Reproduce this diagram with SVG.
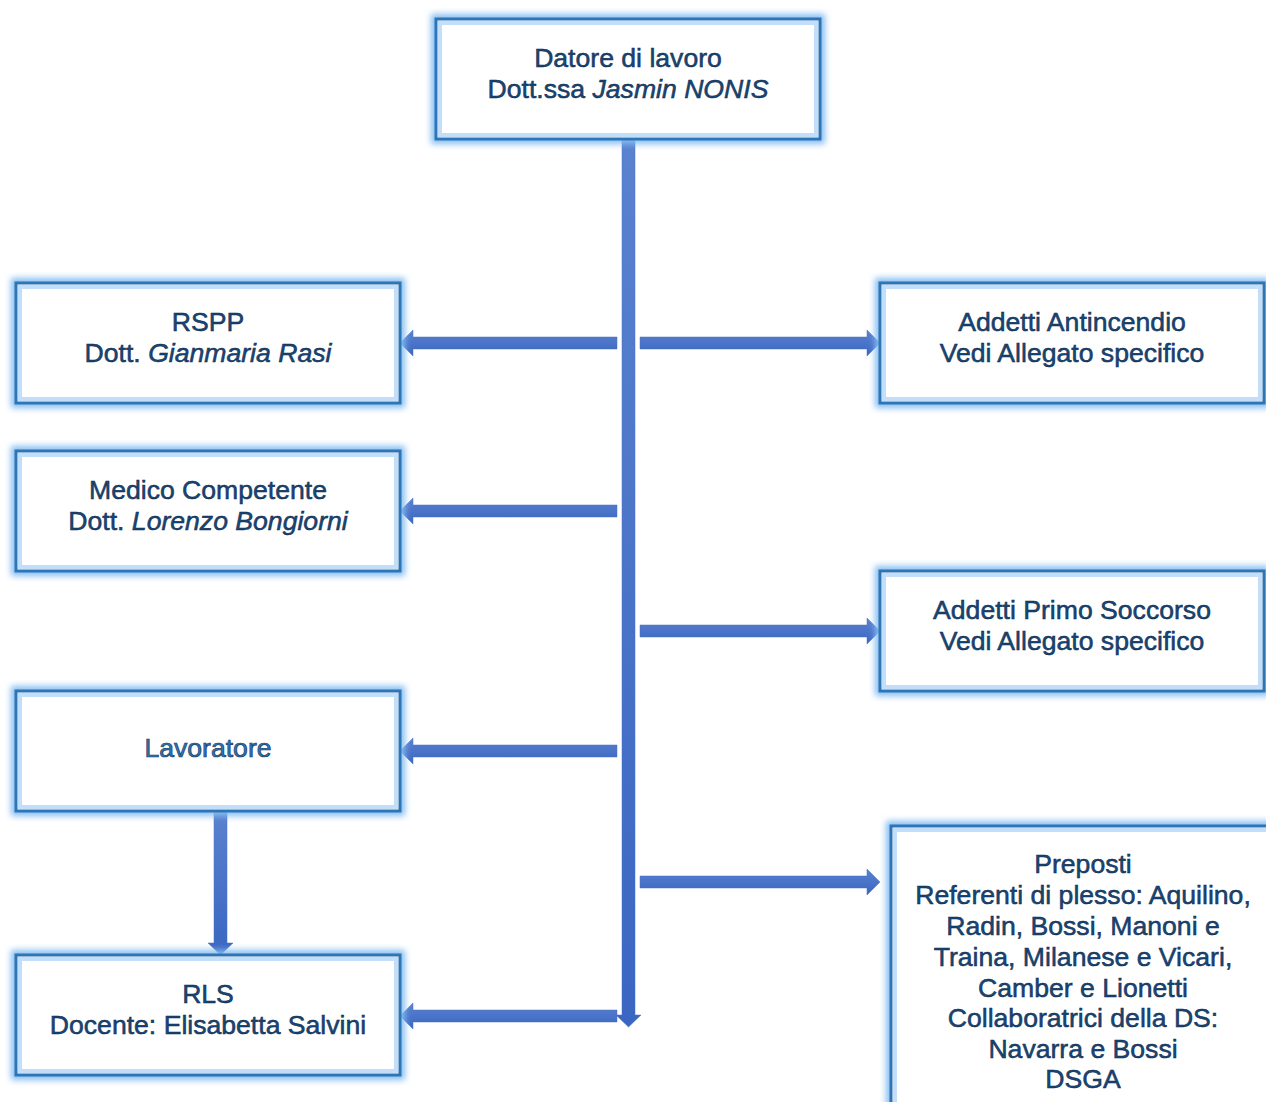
<svg xmlns="http://www.w3.org/2000/svg" width="1266" height="1102" viewBox="0 0 1266 1102">
<defs>
<filter id="glow" x="-10%" y="-20%" width="120%" height="140%">
<feGaussianBlur stdDeviation="3"/>
</filter>
<linearGradient id="ag" x1="0" y1="0" x2="0" y2="1">
<stop offset="0" stop-color="#5b82cf"/>
<stop offset="1" stop-color="#3a66c2"/>
</linearGradient>
</defs>
<style>
.halo{fill:none;stroke:#86bdf2;stroke-width:10;filter:url(#glow)}
.box{fill:#ffffff;stroke:#2e75b6;stroke-width:3}
.inner{fill:none;stroke:#c2def8;stroke-width:4}
text{font-family:"Liberation Sans",Arial,sans-serif;font-size:26.6px;fill:#184676;stroke:#0a2749;stroke-width:0.5;text-anchor:middle}
.it{font-style:italic}
.lav{fill:#2e75b6;stroke:#163a63;stroke-width:0.7}
.arr{fill:url(#ag);stroke:#4472c4;stroke-width:0.5}
</style>

<g id="connectors">
<polygon class="arr" points="622,139 635,139 635,1015 641,1015 628.5,1027 616,1015 622,1015"/>
<polygon class="arr" points="617,337 413,337 413,330 400,343 413,356 413,349 617,349"/>
<polygon class="arr" points="640,337 867,337 867,330 880,343 867,356 867,349 640,349"/>
<polygon class="arr" points="617,505 413,505 413,498 400,511 413,524 413,517 617,517"/>
<polygon class="arr" points="640,625 867,625 867,618 880,631 867,644 867,637 640,637"/>
<polygon class="arr" points="617,745 413,745 413,738 400,751 413,764 413,757 617,757"/>
<polygon class="arr" points="640,876 867,876 867,869 880,882 867,895 867,888 640,888"/>
<polygon class="arr" points="617,1010 413,1010 413,1003 400,1016 413,1029 413,1022 617,1022"/>
<polygon class="arr" points="214,811 227,811 227,943 233,943 220.5,955 208,943 214,943"/>
</g>

<g id="datore">
<rect class="halo" x="436" y="19" width="384" height="120"/>
<rect class="box" x="436" y="19" width="384" height="120"/>
<rect class="inner" x="440" y="23" width="376" height="112"/>
<text x="628" y="67">Datore di lavoro</text>
<text x="628" y="98">Dott.ssa <tspan class="it">Jasmin NONIS</tspan></text>
</g>

<g id="rspp">
<rect class="halo" x="16" y="283" width="384" height="120"/>
<rect class="box" x="16" y="283" width="384" height="120"/>
<rect class="inner" x="20" y="287" width="376" height="112"/>
<text x="208" y="331">RSPP</text>
<text x="208" y="362">Dott. <tspan class="it">Gianmaria Rasi</tspan></text>
</g>

<g id="medico">
<rect class="halo" x="16" y="451" width="384" height="120"/>
<rect class="box" x="16" y="451" width="384" height="120"/>
<rect class="inner" x="20" y="455" width="376" height="112"/>
<text x="208" y="499">Medico Competente</text>
<text x="208" y="530">Dott. <tspan class="it">Lorenzo Bongiorni</tspan></text>
</g>

<g id="lavoratore">
<rect class="halo" x="16" y="691" width="384" height="120"/>
<rect class="box" x="16" y="691" width="384" height="120"/>
<rect class="inner" x="20" y="695" width="376" height="112"/>
<text class="lav" x="208" y="757">Lavoratore</text>
</g>

<g id="rls">
<rect class="halo" x="16" y="955" width="384" height="120"/>
<rect class="box" x="16" y="955" width="384" height="120"/>
<rect class="inner" x="20" y="959" width="376" height="112"/>
<text x="208" y="1003">RLS</text>
<text x="208" y="1034">Docente: Elisabetta Salvini</text>
</g>

<g id="antincendio">
<rect class="halo" x="880" y="283" width="384" height="120"/>
<rect class="box" x="880" y="283" width="384" height="120"/>
<rect class="inner" x="884" y="287" width="376" height="112"/>
<text x="1072" y="331">Addetti Antincendio</text>
<text x="1072" y="362">Vedi Allegato specifico</text>
</g>

<g id="primosoccorso">
<rect class="halo" x="880" y="571" width="384" height="120"/>
<rect class="box" x="880" y="571" width="384" height="120"/>
<rect class="inner" x="884" y="575" width="376" height="112"/>
<text x="1072" y="619">Addetti Primo Soccorso</text>
<text x="1072" y="650">Vedi Allegato specifico</text>
</g>

<g id="preposti">
<rect class="halo" x="891" y="826" width="400" height="300"/>
<rect class="box" x="891" y="826" width="400" height="300"/>
<rect class="inner" x="895" y="830" width="392" height="292"/>
<text x="1083" y="873">Preposti</text>
<text x="1083" y="904">Referenti di plesso: Aquilino,</text>
<text x="1083" y="935">Radin, Bossi, Manoni e</text>
<text x="1083" y="966">Traina, Milanese e Vicari,</text>
<text x="1083" y="997">Camber e Lionetti</text>
<text x="1083" y="1027">Collaboratrici della DS:</text>
<text x="1083" y="1058">Navarra e Bossi</text>
<text x="1083" y="1088">DSGA</text>
</g>
</svg>
